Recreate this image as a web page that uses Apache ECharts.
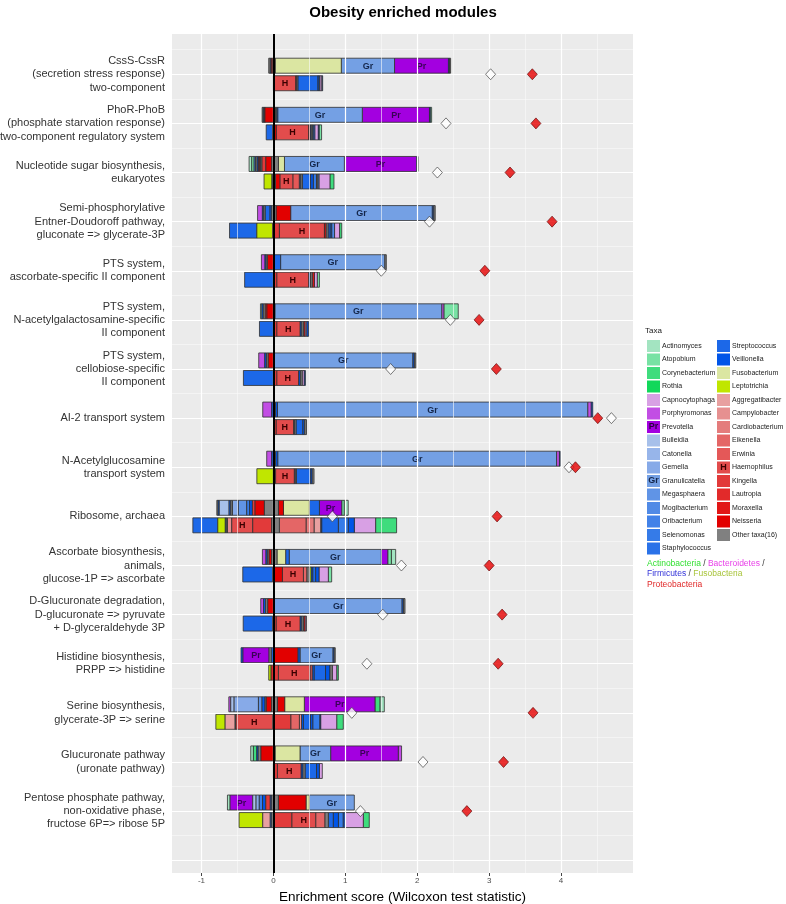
<!DOCTYPE html>
<html>
<head>
<meta charset="utf-8">
<script src="https://cdn.jsdelivr.net/npm/echarts@6/dist/echarts.min.js"></script>
<style>html,body{margin:0;padding:0;background:#fff}#c{width:786px;height:904px}</style>
</head>
<body>
<div id="c"></div>
<script>
// ---------- data ----------
const taxaNames = ['Actinomyces','Atopobium','Corynebacterium','Rothia','Capnocytophaga','Porphyromonas','Prevotella','Bulleidia','Catonella','Gemella','Granulicatella','Megasphaera','Mogibacterium','Oribacterium','Selenomonas','Staphylococcus',
  'Streptococcus','Veillonella','Fusobacterium','Leptotrichia','Aggregatibacter','Campylobacter','Cardiobacterium','Eikenella','Erwinia','Haemophilus','Kingella','Lautropia','Moraxella','Neisseria','Other taxa(16)'];
const taxaCodes = ['Ac','At','Co','Ro','Ca','Po','Pr','Bu','Cat','Ge','Gr','Me','Mo','Or','Se','St','Sc','Ve','Fu','Le','Ag','Cp','Cd','Ei','Er','H','Ki','La','Mx','Ne','Ot'];
const taxaColors = ['#a3e4c1','#78e2a4','#3fdc7d','#12d85a','#d8a0e4','#c24ee4','#a300e0','#a7c0ea','#97b5ea','#87aae8','#74a0e4','#6094e6','#508ae6','#4282e8','#357be8','#2a72e8',
  '#1c68e8','#0055e8','#dbe6a2','#c0e600','#e8a0a0','#e69090','#e47c7c','#e46666','#e45858','#e24c4c','#e23a3a','#e22a2a','#e21616','#e20000','#808080'];
const segLabels = {Gr:'Gr', Pr:'Pr', H:'H'};

const modules = [
  'CssS-CssR\n(secretion stress response)\ntwo-component',
  'PhoR-PhoB\n(phosphate starvation response)\ntwo-component regulatory system',
  'Nucleotide sugar biosynthesis,\neukaryotes',
  'Semi-phosphorylative\nEntner-Doudoroff pathway,\ngluconate => glycerate-3P',
  'PTS system,\nascorbate-specific II component',
  'PTS system,\nN-acetylgalactosamine-specific\nII component',
  'PTS system,\ncellobiose-specific\nII component',
  'AI-2 transport system',
  'N-Acetylglucosamine\ntransport system',
  'Ribosome, archaea',
  'Ascorbate biosynthesis,\nanimals,\nglucose-1P => ascorbate',
  'D-Glucuronate degradation,\nD-glucuronate => pyruvate\n+ D-glyceraldehyde 3P',
  'Histidine biosynthesis,\nPRPP => histidine',
  'Serine biosynthesis,\nglycerate-3P => serine',
  'Glucuronate pathway\n(uronate pathway)',
  'Pentose phosphate pathway,\nnon-oxidative phase,\nfructose 6P=> ribose 5P'
];
const whiteScore = [3.02, 2.40, 2.28, 2.17, 1.50, 2.46, 1.63, 4.70, 4.11, 0.82, 1.78, 1.52, 1.30, 1.09, 2.08, 1.21];
const redScore   = [3.60, 3.65, 3.29, 3.875, 2.94, 2.86, 3.10, 4.51, 4.20, 3.11, 3.00, 3.18, 3.125, 3.61, 3.20, 2.69];

const topStart = [-0.065, -0.157, -0.338, -0.22, -0.167, -0.18, -0.204, -0.148, -0.093, -0.787, -0.153, -0.176, -0.45, -0.62, -0.315, -0.639];
const topSegs = [
  [['Ot',.02],['Ve',.015],['Mx',.015],['Ne',.015],['Ki',.012],['Ot',.012],['Fu',.92],['Gr',.74],['Pr',.75],['Ve',.015],['Ot',.015]],
  [['Ot',.015],['Ve',.015],['Mx',.01],['Ne',.117],['Fu',.03],['Ot',.015],['Ve',.015],['Gr',1.176],['Pr',.934],['Ve',.01],['At',.02]],
  [['Ac',.037],['At',.033],['Se',.02],['Ot',.02],['Ve',.021],['Mx',.015],['Ve',.015],['Ot',.016],['Ki',.056],['Ne',.083],['Ot',.092],['Fu',.084],['Gr',.833],['Pr',1.004],['Ve',.02]],
  [['Po',.067],['Ve',.018],['Ot',.019],['Sc',.07],['Ve',.023],['Ot',.06],['Ne',.203],['Gr',1.97],['Ve',.02],['Ot',.02]],
  [['Po',.05],['Ve',.016],['Ot',.016],['Ne',.085],['Sc',.10],['Gr',1.45],['Ot',.02]],
  [['Ac',.02],['Ve',.02],['Ot',.025],['Mx',.025],['Ne',.09],['Ot',.02],['Gr',2.32],['Po',.03],['At',.20]],
  [['Po',.084],['Ve',.023],['Ot',.023],['Ne',.074],['Gr',1.94],['Ve',.02],['Ot',.02]],
  [['Po',.125],['Ve',.023],['Ot',.028],['Ve',.028],['Gr',4.314],['Po',.05],['Ve',.02]],
  [['Po',.07],['Ve',.023],['Ot',.03],['Ve',.03],['Gr',3.877],['Po',.04],['Ve',.01]],
  [['Ot',.015],['Ve',.017],['Bu',.139],['Ve',.023],['Ot',.023],['Ge',.083],['Me',.116],['Se',.04],['Ve',.039],['Ki',.037],['Ne',.13],['Ot',.195],['Ne',.07],['Fu',.36],['Sc',.14],['Pr',.31],['At',.035],['Ac',.055]],
  [['Po',.05],['Ve',.02],['Ot',.02],['Ne',.04],['Ot',.073],['Fu',.12],['Sc',.05],['Gr',1.28],['Pr',.09],['At',.05],['Ac',.06]],
  [['Po',.04],['Ve',.028],['Ot',.028],['Ne',.08],['Ve',.014],['Gr',1.776],['Ve',.02],['Ot',.02]],
  [['Ve',.024],['Pr',.366],['Ot',.03],['Ve',.03],['Ne',.34],['Ve',.03],['Gr',.46],['Ve',.015],['Ot',.015]],
  [['Po',.027],['Bu',.047],['Ge',.338],['Me',.05],['Ve',.042],['Ot',.014],['Ne',.079],['Ot',.079],['Ne',.101],['Fu',.273],['Pr',.982],['Co',.069],['Ac',.061]],
  [['Ac',.037],['Co',.047],['Ve',.02],['Ot',.035],['Ne',.176],['Ot',.023],['Fu',.347],['Gr',.426],['Pr',.94],['Po',.046]],
  [['Ac',.037],['Pr',.315],['Bu',.046],['Ge',.045],['Se',.045],['Ve',.045],['Ki',.06],['Ve',.023],['Ot',.092],['Ne',.385],['Fu',.046],['Gr',.625]]
];
const bottomStart = [0, -0.10, -0.13, -0.61, -0.40, -0.194, -0.417, 0.014, -0.23, -1.12, -0.426, -0.42, -0.065, -0.80, 0, -0.477];
const bottomSegs = [
  [['Ki',.01],['H',.30],['Mx',.015],['Ot',.015],['Sc',.28],['Ve',.015],['Ge',.01],['Ca',.03],['Mo',.01]],
  [['Sc',.09],['Ki',.01],['Ne',.04],['H',.45],['Ki',.02],['Ve',.015],['Ot',.015],['Mo',.015],['Sc',.02],['Ca',.05],['Ve',.01],['At',.035]],
  [['Le',.107],['Ve',.015],['Mx',.015],['Ot',.021],['Ne',.062],['H',.18],['Er',.09],['Ve',.02],['Ot',.022],['Sc',.116],['Ve',.037],['Se',.044],['Ot',.017],['Mo',.017],['Ca',.153],['Co',.056]],
  [['Sc',.38],['Le',.22],['Ne',.01],['Ki',.083],['H',.627],['Mx',.025],['Ot',.025],['Sc',.03],['Ve',.02],['Mo',.04],['Ca',.07],['Co',.03]],
  [['Sc',.40],['Ki',.046],['H',.444],['Ve',.025],['Ot',.025],['Mx',.03],['Ca',.04],['At',.03]],
  [['Sc',.194],['Ki',.046],['H',.324],['Ve',.025],['Ot',.025],['Mx',.02],['Ca',.025],['Ve',.025]],
  [['Sc',.417],['Ki',.046],['H',.304],['Ve',.025],['Ot',.025],['Ca',.03],['Ve',.015]],
  [['Ki',.023],['H',.243],['Ve',.015],['Ot',.02],['Sc',.095],['Ve',.025],['Ot',.025]],
  [['Le',.23],['Ki',.03],['H',.26],['Ve',.015],['Ot',.015],['Sc',.20],['Ve',.02],['Ot',.025]],
  [['Sc',.347],['Le',.102],['Ve',.016],['Ot',.016],['Cp',.06],['H',.292],['Ki',.264],['Ot',.106],['Ei',.371],['Cd',.111],['Ag',.092],['Ve',.014],['Sc',.232],['Se',.139],['Ve',.083],['Ca',.296],['Co',.292]],
  [['Sc',.417],['Ki',.009],['Ne',.125],['H',.292],['Ei',.05],['Ot',.033],['Le',.023],['Ve',.023],['Sc',.042],['Ve',.046],['Ca',.13],['At',.046]],
  [['Sc',.41],['Ki',.047],['H',.333],['Ve',.025],['Ot',.025],['Mx',.02],['Ca',.02]],
  [['Le',.033],['Mx',.032],['Ki',.069],['H',.44],['Er',.03],['Ve',.026],['Sc',.16],['Ve',.062],['Ot',.032],['Ca',.061],['Co',.023]],
  [['Le',.129],['Ag',.139],['Ot',.009],['H',.514],['Ki',.25],['Ei',.12],['Cp',.03],['Ve',.026],['Sc',.1],['Ve',.03],['Se',.1],['Ve',.01],['Ca',.223],['Co',.092]],
  [['Ki',.056],['H',.328],['Ve',.028],['Ot',.028],['Sc',.16],['Ve',.039],['Ca',.041]],
  [['Le',.329],['Ag',.102],['Ve',.023],['Ot',.023],['Ki',.255],['H',.333],['Ei',.13],['Ot',.046],['Sc',.07],['Ve',.07],['Se',.068],['Ve',.023],['Ca',.255],['Co',.083]]
];

const xTicks = [-1, 0, 1, 2, 3, 4];
const xMinor = [-0.5, 0.5, 1.5, 2.5, 3.5, 4.5];
const yMajor = [1,2,3,4,5,6,7,8,9,10,11,12,13,14,15,16,17];
const yMinor = [0.5,1.5,2.5,3.5,4.5,5.5,6.5,7.5,8.5,9.5,10.5,11.5,12.5,13.5,14.5,15.5,16.5];
const yTicks = [1,2,3,4,5,6,7,8,9,10,11,12,13,14,15,16];

// ---------- build ----------
const FONT = 'Liberation Sans, Arial, Helvetica, sans-serif';
const perTaxon = taxaCodes.map(() => []);
function addBars(starts, segs, part) {
  segs.forEach((row, i) => {
    let x = starts[i];
    row.forEach(([code, w]) => {
      const k = taxaCodes.indexOf(code);
      perTaxon[k].push([x, x + w, i + 1, part, k]);
      x += w;
    });
  });
}
addBars(topStart, topSegs, 0);
addBars(bottomStart, bottomSegs, 1);

function renderSeg(params, api) {
  const x0 = api.value(0), x1 = api.value(1), row = api.value(2), part = api.value(3);
  const code = taxaCodes[api.value(4)];
  const p0 = api.coord([x0, row]);
  const p1 = api.coord([x1, row]);
  const u = Math.abs(api.size([0, 1])[1]);
  const y = part === 0 ? p0[1] - 0.327 * u : p0[1] + 0.03 * u;
  const h = 0.305 * u;
  const w = p1[0] - p0[0];
  const children = [{
    type: 'rect',
    shape: { x: p0[0], y: y, width: w, height: h },
    style: { fill: api.visual('color'), stroke: '#2e2e2e', lineWidth: 0.8 }
  }];
  if (segLabels[code] && w >= 9) {
    const tc = code === 'Gr' ? '#14264a' : (code === 'Pr' ? '#3a0058' : '#3a0000');
    children.push({
      type: 'text',
      style: { text: segLabels[code], x: p0[0] + w / 2, y: y + h / 2 + 0.5, align: 'center', verticalAlign: 'middle',
               fill: tc, font: 'bold 9px ' + FONT }
    });
  }
  return { type: 'group', children: children };
}

const lineSeries = {
  type: 'scatter', data: [], z: 1, silent: true,
  markLine: {
    silent: true, symbol: 'none', label: { show: false }, animation: false,
    data: [
      ...xMinor.map(v => ({ xAxis: v, lineStyle: { color: '#fafafa', width: 0.6, type: 'solid' } })),
      ...yMinor.map(v => ({ yAxis: v, lineStyle: { color: '#fafafa', width: 0.6, type: 'solid' } })),
      ...xTicks.map(v => ({ xAxis: v, lineStyle: { color: '#ffffff', width: 1.2, type: 'solid' } })),
      ...yMajor.map(v => ({ yAxis: v, lineStyle: { color: '#ffffff', width: 1.2, type: 'solid' } }))
    ]
  }
};
const zeroSeries = {
  type: 'scatter', data: [], z: 5, silent: true,
  markLine: { silent: true, symbol: 'none', label: { show: false }, animation: false,
    data: [{ xAxis: 0, lineStyle: { color: '#000', width: 2, type: 'solid' } }] }
};
const whiteSeries = { type: 'scatter', name: 'white', z: 6, symbol: 'diamond', symbolSize: [10, 11],
    data: whiteScore.map((v, i) => [v, i + 1]),
    itemStyle: { color: '#ffffff', borderColor: '#333', borderWidth: 0.8 } };
const redSeries = { type: 'scatter', name: 'red', z: 6, symbol: 'diamond', symbolSize: [10, 11],
    data: redScore.map((v, i) => [v, i + 1]),
    itemStyle: { color: '#e60000', borderColor: '#5a0000', borderWidth: 0.8 } };
const taxonSeries = taxaNames.map((n, k) => ({
  type: 'custom', name: n, z: 3, renderItem: renderSeg,
  itemStyle: { color: taxaColors[k] },
  encode: { x: [0, 1], y: 2 },
  data: perTaxon[k]
}));

const legendBase = {
  orient: 'vertical', icon: 'rect', itemWidth: 13, itemHeight: 12, itemGap: 1.5,
  textStyle: { fontSize: 7, color: '#222', fontFamily: FONT, padding: [0, 0, 0, -3] }, selectedMode: false, padding: 0
};

const option = {
  animation: false,
  title: { text: 'Obesity enriched modules', left: 403, textAlign: 'center', top: 5, padding: 0,
    textStyle: { fontSize: 15, fontWeight: 'bold', color: '#000', fontFamily: FONT } },
  grid: { left: 172, right: 153, top: 34, bottom: 31, show: true, backgroundColor: '#ebebeb', borderWidth: 0,
    containLabel: false, outerBoundsMode: 'none' },
  xAxis: {
    type: 'value', min: -1.41, max: 5.0,
    name: 'Enrichment score (Wilcoxon test statistic)', nameLocation: 'middle', nameGap: 11,
    nameTextStyle: { fontSize: 13.5, color: '#000', fontFamily: FONT },
    axisLine: { show: false }, splitLine: { show: false },
    axisTick: { show: true, customValues: xTicks, length: 3, lineStyle: { color: '#444' } },
    axisLabel: { customValues: xTicks, fontSize: 8, color: '#4d4d4d', margin: 4, fontFamily: FONT }
  },
  yAxis: {
    type: 'value', inverse: true, min: 0.18, max: 17.26,
    axisLine: { show: false }, splitLine: { show: false },
    axisTick: { show: true, customValues: yTicks, length: 3, lineStyle: { color: '#444' } },
    axisLabel: { customValues: yTicks, formatter: v => modules[Math.round(v) - 1] || '',
      fontSize: 11, lineHeight: 13.3, color: '#333', margin: 7, fontFamily: FONT, align: 'right', padding: [3, 0, 0, 0] }
  },
  legend: [
    Object.assign({}, legendBase, { left: 647, top: 340, data: taxaNames.slice(0, 16) }),
    Object.assign({}, legendBase, { left: 717, top: 340, data: taxaNames.slice(16) })
  ],
  graphic: [
    { type: 'text', left: 645, top: 327, style: { text: 'Taxa', font: '8px ' + FONT, fill: '#222' } },
    { type: 'text', left: 647, top: 558, style: {
        text: '{a|Actinobacteria}{s| / }{b|Bacteroidetes}{s| /}\n{c|Firmicutes}{s| / }{d|Fusobacteria}\n{e|Proteobacteria}',
        font: '8.5px ' + FONT, lineHeight: 10.5,
        rich: { a: { fill: '#33e033', fontSize: 8.5, lineHeight: 10.5 }, b: { fill: '#e83ee8', fontSize: 8.5, lineHeight: 10.5 },
                c: { fill: '#3434d8', fontSize: 8.5, lineHeight: 10.5 }, d: { fill: '#a8c43a', fontSize: 8.5, lineHeight: 10.5 },
                e: { fill: '#e02828', fontSize: 8.5, lineHeight: 10.5 }, s: { fill: '#333', fontSize: 8.5, lineHeight: 10.5 } } } },
    { type: 'text', x: 653.5, y: 427, z: 100, style: { text: 'Pr', align: 'center', verticalAlign: 'middle', font: 'bold 9px ' + FONT, fill: '#2a0040' } },
    { type: 'text', x: 653.5, y: 481, z: 100, style: { text: 'Gr', align: 'center', verticalAlign: 'middle', font: 'bold 9px ' + FONT, fill: '#14264a' } },
    { type: 'text', x: 723.5, y: 467.5, z: 100, style: { text: 'H', align: 'center', verticalAlign: 'middle', font: 'bold 9px ' + FONT, fill: '#3a0000' } }
  ],
  series: [lineSeries, zeroSeries, whiteSeries, ...taxonSeries, redSeries]
};
const chart = echarts.init(document.getElementById('c'), null, { renderer: 'canvas' });
chart.setOption(option);
</script>
</body>
</html>
